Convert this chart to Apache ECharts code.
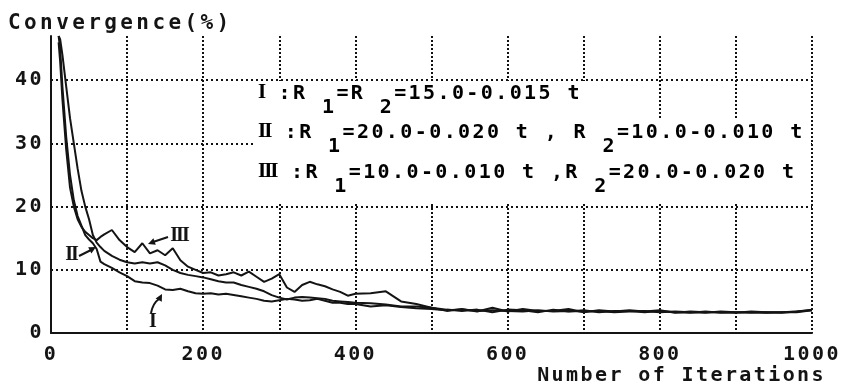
<!DOCTYPE html>
<html><head><meta charset="utf-8">
<script src="https://cdn.jsdelivr.net/npm/echarts@6/dist/echarts.min.js"></script>
<style>html,body{margin:0;padding:0;background:#fff}#c{width:851px;height:391px}</style>
</head><body><div id="c"></div>
<script>
// typewriter-like letter spacing for the monospace texts
(function(){
  var P = CanvasRenderingContext2D.prototype;
  if (!('letterSpacing' in P)) return;
  function ls(ctx){
    var f = ctx.font || '';
    if (f.indexOf('Mono') >= 0) {
      ctx.letterSpacing = (f.indexOf('21px') >= 0) ? '3.4px' : '2.4px';
    }
    else if (f.indexOf('Serif') >= 0) ctx.letterSpacing = '-2px';
    else ctx.letterSpacing = '0px';
  }
  ['fillText','strokeText','measureText'].forEach(function(n){
    var o = P[n];
    P[n] = function(){ ls(this); return o.apply(this, arguments); };
  });
})();

const iterations = [10,12,15,20,25,30,35,40,45,50,55,60,65,70,80,90,100,
  110,120,130,140,150,160,170,180,190,200,210,220,230,240,250,260,270,280,290,300,
  310,320,330,340,350,360,370,380,390,400,420,440,460,480,500,
  520,540,560,580,600,620,640,660,680,700,720,740,760,780,800,820,840,860,880,900,920,940,960,980,1000];

const convI = [47,45,39,31,25,21,18.5,17,15.5,14.8, 14.2,13.3,11.3,10.9,10.3,9.6,9,
  8.2,8,7.9,7.5,6.9,6.8,7,6.6,6.3,6.2, 6.3,6.1,6.2,6,5.8,5.6,5.4,5.1,5,5.2,
  5.4,5.3,5.1,5.2,5.4,5.1,4.8,4.8,4.6,4.6, 4.2,4.4,4.1,3.9,3.8,
  3.6,3.7,3.5,3.6,3.5,3.4,3.6,3.4,3.5,3.4,3.5,3.3,3.4,3.5,3.3,3.4,3.3,3.2,3.4,3.3,3.2,3.3,3.2,3.4,3.6];

const convII = [47,46.5,44,39,34,30,26,22.5,20,18, 15.5,14.3,13.6,13,12.2,11.6,11.2,
  11,11.2,11,11.2,10.7,10,9.5,9.2,9,8.8, 8.5,8.2,8,8,7.6,7.3,7,6.6,6,5.6,
  5.3,5.6,5.7,5.6,5.5,5.4,5.1,5,4.9,4.8, 4.7,4.5,4.2,4.2,4.0,
  3.7,3.5,3.7,3.3,3.7,3.6,3.3,3.7,3.4,3.6,3.3,3.5,3.5,3.3,3.5,3.3,3.2,3.4,3.2,3.3,3.3,3.2,3.3,3.3,3.6];

const convIII = [46,43,37,29,23,20,18,16.8,16,15.5, 15,14.7,15.2,15.6,16.3,14.7,13.6,
  12.8,14.2,12.6,13.1,12.3,13.4,11.5,10.5,10,9.5, 9.6,9.1,9.3,9.6,9.1,9.7,8.9,8.1,8.6,9.3,
  7.2,6.5,7.6,8.1,7.7,7.4,6.9,6.5,5.9,6.2, 6.3,6.6,5.0,4.6,4.0,
  3.5,3.8,3.4,4.0,3.4,3.8,3.5,3.5,3.8,3.3,3.6,3.4,3.6,3.4,3.6,3.2,3.4,3.3,3.3,3.2,3.4,3.3,3.3,3.4,3.7];

const xTickLabels = ['0','200','400','600','800','1000'];
const yTickLabels = ['0','10','20','30','40'];

const MONO = 'DejaVu Sans Mono';
const SERIF = 'Liberation Serif';
const INK = '#141414';

function pairs(xs, ys){ return xs.map(function(x,i){ return [x, ys[i]]; }); }

const chart = echarts.init(document.getElementById('c'), null, {renderer:'canvas'});

const richBase = {
  r: {fontFamily: SERIF, fontWeight: 'bold', fontSize: 21, color: INK, lineHeight: 25, verticalAlign: 'top'},
  t: {fontFamily: MONO, fontWeight: 'bold', fontSize: 20, color: INK, lineHeight: 21, verticalAlign: 'top'},
  s: {fontFamily: MONO, fontWeight: 'bold', fontSize: 20, color: INK, lineHeight: 36, verticalAlign: 'bottom'}
};
function legendText(top, str){
  return {
    type: 'text', x: 254, y: top, z: 100, silent: true,
    style: {
      text: str, rich: richBase, align: 'left', verticalAlign: 'top',
      textAlign: 'left', textVerticalAlign: 'top',
      backgroundColor: '#fff', padding: [2, 4, 5, 4]
    }
  };
}
function label(x, y, str){
  return {
    type: 'text', x: x, y: y, z: 100, silent: true,
    style: {text: str, fill: INK, font: 'bold 20px "' + SERIF + '"',
      align: 'center', verticalAlign: 'middle', textAlign: 'center', textVerticalAlign: 'middle'}
  };
}
function arrowHead(pts){
  return {type: 'polygon', z: 100, silent: true, shape: {points: pts}, style: {fill: INK}};
}

chart.setOption({
  animation: false,
  backgroundColor: '#fff',
  title: [
    {text: 'Convergence(%)', left: 3, top: 6,
     textStyle: {fontFamily: MONO, fontWeight: 'bold', fontSize: 21, color: INK}},
    {text: 'Number of Iterations', right: 20, top: 360,
     textStyle: {fontFamily: MONO, fontWeight: 'bold', fontSize: 20, color: INK}}
  ],
  grid: {left: 51, right: 39, top: 36, bottom: 58, containLabel: false},
  xAxis: {
    type: 'value', min: 0, max: 1000, interval: 100,
    axisLine: {show: true, lineStyle: {color: INK, width: 2}},
    axisTick: {show: false},
    axisLabel: {
      margin: 11, fontFamily: MONO, fontWeight: 'bold', fontSize: 20, color: INK,
      formatter: function(v){ var s = String(v); return xTickLabels.indexOf(s) >= 0 ? s : ''; }
    },
    splitLine: {show: true, showMinLine: false, showMaxLine: true,
      lineStyle: {color: '#111', width: 2, type: [2, 2]}}
  },
  yAxis: {
    type: 'value', min: 0, max: 47, interval: 10,
    axisLine: {show: true, lineStyle: {color: INK, width: 2}},
    axisTick: {show: false},
    axisLabel: {
      margin: 7, fontFamily: MONO, fontWeight: 'bold', fontSize: 20, color: INK,
      formatter: function(v){ var s = String(v); return yTickLabels.indexOf(s) >= 0 ? s : ''; }
    },
    splitLine: {show: true, showMinLine: false, showMaxLine: false,
      lineStyle: {color: '#111', width: 2, type: [2, 3]}}
  },
  series: [
    {name: 'I', type: 'line', data: pairs(iterations, convI), symbol: 'none', silent: true, z: 3,
     lineStyle: {color: INK, width: 2}},
    {name: 'II', type: 'line', data: pairs(iterations, convII), symbol: 'none', silent: true, z: 3,
     lineStyle: {color: INK, width: 2}},
    {name: 'III', type: 'line', data: pairs(iterations, convIII), symbol: 'none', silent: true, z: 3,
     lineStyle: {color: INK, width: 2}}
  ],
  graphic: [
    legendText(81, '{r|I}{t| :R}{s| 1}{t|=R}{s| 2}{t|=15.0-0.015 t}'),
    legendText(120, '{r|II}{t| :R}{s| 1}{t|=20.0-0.020 t , R}{s| 2}{t|=10.0-0.010 t}'),
    legendText(160, '{r|III}{t| :R}{s| 1}{t|=10.0-0.010 t ,R}{s| 2}{t|=20.0-0.020 t}'),
    label(179, 236, 'III'),
    {type: 'line', z: 100, silent: true, shape: {x1: 168, y1: 237, x2: 153, y2: 242}, style: {stroke: INK, lineWidth: 2}},
    arrowHead([[148,244],[153.4,238.2],[155.8,244.8]]),
    label(71, 255, 'II'),
    {type: 'line', z: 100, silent: true, shape: {x1: 79, y1: 256, x2: 91, y2: 250}, style: {stroke: INK, lineWidth: 2}},
    arrowHead([[96,247],[91.4,253.4],[88.2,247.2]]),
    label(152, 322, 'I'),
    {type: 'bezierCurve', z: 100, silent: true, shape: {x1: 151, y1: 313, cpx1: 153, cpy1: 303, x2: 159, y2: 299},
     style: {stroke: INK, lineWidth: 2, fill: null}},
    arrowHead([[162,294],[161.8,301.8],[155.6,298.6]])
  ]
});
</script>
</body></html>
